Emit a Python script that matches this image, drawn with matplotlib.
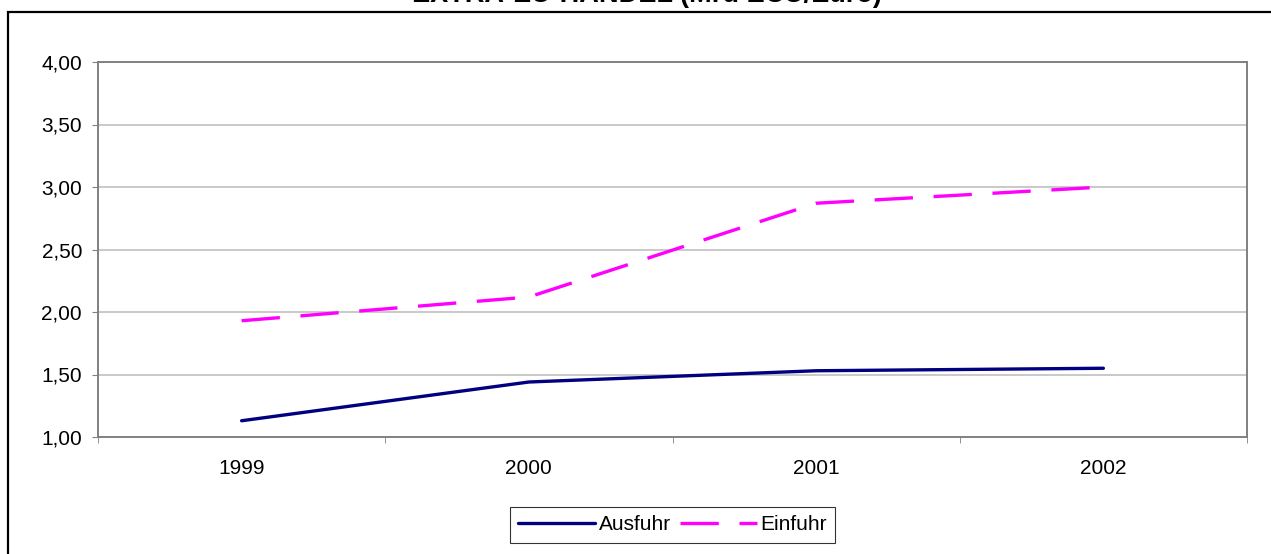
import matplotlib.pyplot as plt
from matplotlib.patches import Rectangle
from matplotlib.ticker import FuncFormatter, FixedLocator

plt.rcParams['font.family'] = ['Liberation Sans', 'DejaVu Sans']

years = ['1999', '2000', '2001', '2002']
ausfuhr = [1.13, 1.44, 1.53, 1.55]
einfuhr = [1.93, 2.12, 2.87, 3.00]

fig = plt.figure(figsize=(12.71, 5.54), dpi=100)
W, H = 1271, 554

# outer chart frame (clipped at top/right/bottom like the screenshot)
fig.patches.append(Rectangle((8 / W, -0.1), 1.2, 1 - 12 / H + 0.1,
                             transform=fig.transFigure, fill=False,
                             edgecolor='black', linewidth=1.6))
fig.text(647 / W, 1 - 2 / H, 'EXTRA-EU-HANDEL (Mrd ECU/Euro)',
         ha='center', va='baseline', fontsize=19.5, fontweight='bold')

ax = fig.add_axes([98 / W, 1 - 437 / H, (1247 - 98) / W, (437 - 62) / H])
x = range(len(years))
ax.plot(x, ausfuhr, color='#000080', linewidth=2.4, solid_capstyle='round',
        label='Ausfuhr')
ax.plot(x, einfuhr, color='#FF00FF', linewidth=2.4, dashes=(11.5, 6.2),
        label='Einfuhr')

ax.set_xlim(-0.5, 3.5)
ax.set_ylim(1, 4)
ax.set_yticks([1.0, 1.5, 2.0, 2.5, 3.0, 3.5, 4.0])
ax.yaxis.set_major_formatter(FuncFormatter(lambda v, p: f'{v:.2f}'.replace('.', ',')))
ax.set_xticks(list(x))
ax.set_xticklabels(years)
ax.xaxis.set_minor_locator(FixedLocator([-0.5, 0.5, 1.5, 2.5, 3.5]))
ax.tick_params(axis='x', which='major', length=0, pad=16, labelsize=15)
ax.tick_params(axis='x', which='minor', length=4.5, color='#808080')
ax.tick_params(axis='y', length=4.5, color='#808080', labelsize=15, pad=7)
ax.grid(axis='y', color='#c0c0c0', linewidth=1.2)
ax.set_axisbelow(True)
for s in ax.spines.values():
    s.set_color('#808080')
    s.set_linewidth(1.4)

leg = ax.legend(loc='upper center', bbox_to_anchor=(0.5, -0.187), ncol=2,
                frameon=True, fancybox=False, edgecolor='black',
                fontsize=15, handlelength=3.7, handletextpad=0.15,
                columnspacing=0.45, borderpad=0.4, borderaxespad=0)
leg.get_frame().set_linewidth(0.8)

fig.savefig('out.png', dpi=100)
